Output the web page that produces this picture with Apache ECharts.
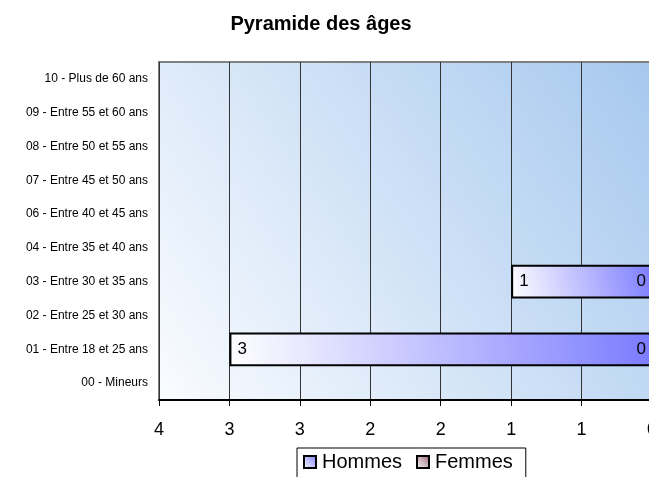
<!DOCTYPE html>
<html>
<head>
<meta charset="utf-8">
<script src="https://cdn.jsdelivr.net/npm/echarts@6/dist/echarts.min.js"></script>
<style>html,body{margin:0;padding:0;background:#fff}#c{width:649px;height:477px}</style>
</head>
<body>
<div id="c"></div>
<script>
const categories = [
  "00 - Mineurs",
  "01 - Entre 18 et 25 ans",
  "02 - Entre 25 et 30 ans",
  "03 - Entre 30 et 35 ans",
  "04 - Entre 35 et 40 ans",
  "06 - Entre 40 et 45 ans",
  "07 - Entre 45 et 50 ans",
  "08 - Entre 50 et 55 ans",
  "09 - Entre 55 et 60 ans",
  "10 - Plus de 60 ans"
];
const hommes = [null, 3, null, 1, null, null, null, null, null, null];
const femmes = [null, 0, null, 0, null, null, null, null, null, null];
const title = "Pyramide des âges";

const chart = echarts.init(document.getElementById('c'), null, {renderer: 'canvas'});
const font = 'Arial, "Liberation Sans", sans-serif';
const blueGrad = {type:'linear', x:0, y:1, x2:1, y2:0, colorStops:[{offset:0,color:'#ffffff'},{offset:0.15,color:'#ececff'},{offset:1,color:'#7b7bff'}]};
const pinkGrad = {type:'linear', x:0, y:1, x2:1, y2:0, colorStops:[{offset:0,color:'#ffffff'},{offset:1,color:'#996677'}]};
chart.setOption({
  animation: false,
  title: {
    text: title, left: 316, top: 9, textAlign: 'center',
    textStyle: {fontFamily: font, fontSize: 20, fontWeight: 'bold', color: '#000'}
  },
  legend: {
    left: 297, top: 448,
    data: ['Hommes', 'Femmes'],
    icon: 'rect', itemWidth: 12, itemHeight: 12, itemGap: 14,
    borderColor: '#000', borderWidth: 1, padding: [4, 13, 8, 6],
    textStyle: {fontFamily: font, fontSize: 20, color: '#000', padding: [0,0,0,1]}
  },
  grid: {
    left: 159, top: 62, bottom: 77, right: -496,
    outerBoundsMode: 'none', containLabel: false,
    show: true, borderWidth: 2, borderColor: '#808080',
    backgroundColor: {type:'linear', global:true, x:159, y:400, x2:649, y2:62,
      colorStops:[{offset:0,color:'#fafcff'},{offset:1,color:'#a6c8ee'}]}
  },
  xAxis: {
    type: 'value', min: -3.5, max: 3.5, interval: 0.5,
    axisLine: {show: true, onZero: false, lineStyle: {color: '#000', width: 2}},
    axisTick: {show: true, length: 6, lineStyle: {color: '#000'}},
    splitLine: {show: true, lineStyle: {color: '#333', width: 1}},
    axisLabel: {
      margin: 21, fontFamily: font, fontSize: 18, color: '#000',
      formatter: v => String(Math.round(Math.abs(v)))
    }
  },
  yAxis: {
    type: 'category', data: categories,
    axisLine: {show: false, onZero: false},
    axisTick: {show: false},
    axisLabel: {margin: 11, fontFamily: font, fontSize: 12, color: '#000'}
  },
  series: [
    {
      name: 'Hommes', type: 'bar', barGap: '-100%', barCategoryGap: '0%',
      data: hommes.map(v => v == null ? null : -v),
      itemStyle: {color: blueGrad, borderColor: '#000', borderWidth: 2},
      label: {show: true, position: 'insideLeft', distance: 8,
        fontFamily: font, fontSize: 17, color: '#000',
        formatter: p => String(Math.abs(p.value))}
    },
    {
      name: 'Femmes', type: 'bar', barGap: '-100%', barCategoryGap: '0%',
      data: femmes,
      itemStyle: {color: pinkGrad, borderColor: '#000', borderWidth: 2},
      label: {show: true, position: 'left', distance: 5,
        fontFamily: font, fontSize: 17, color: '#000',
        formatter: p => String(p.value)}
    }
  ]
});
</script>
</body>
</html>
